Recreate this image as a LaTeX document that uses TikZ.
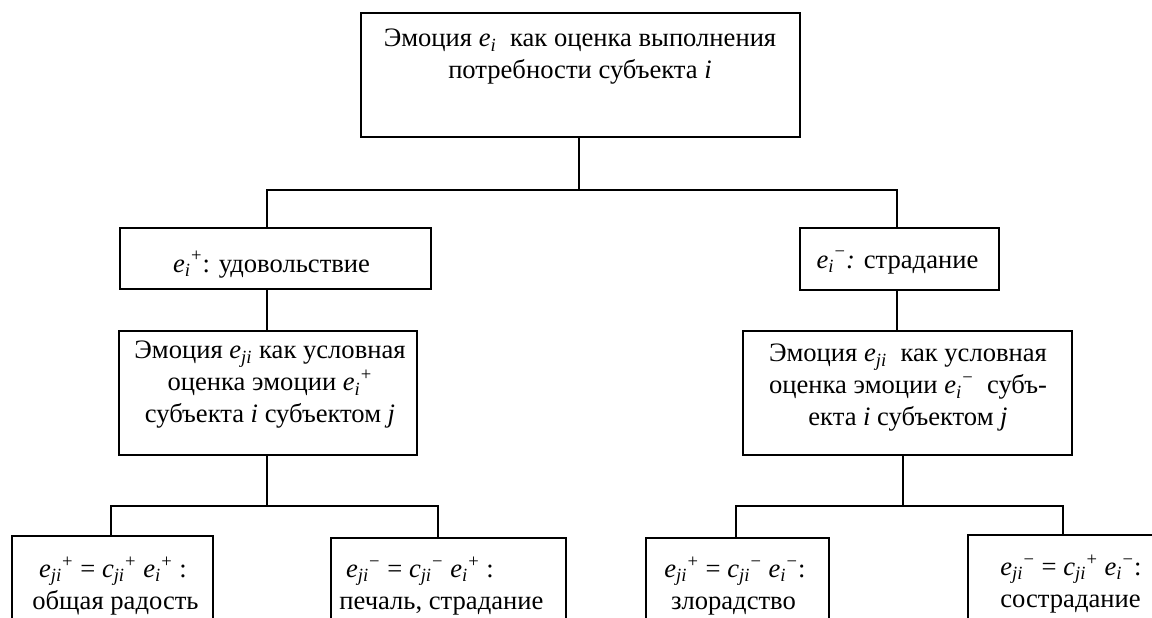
\documentclass[tikz,border=0pt]{standalone}
\usepackage{fontspec}
\setmainfont{Liberation Serif}
\newcommand{\varsub}[2]{\textit{#1}\textsubscript{\textit{#2}}}
\newcommand{\varsubsup}[3]{\textit{#1}\textsubscript{\textit{#2}}\textsuperscript{#3}}
\tikzset{
  box/.style={draw, line width=1.1pt, rectangle, inner sep=0pt, outer sep=0pt},
  txt/.style={align=center, inner sep=0pt, font=\fontsize{13.3}{16}\selectfont},
  ltxt/.style={align=left, inner sep=0pt, anchor=west, font=\fontsize{13.3}{16}\selectfont},
  wire/.style={line width=1.1pt},
}
\begin{document}
\begin{tikzpicture}[x=0.5pt,y=-0.5pt]
\useasboundingbox (0,0) rectangle (1152,617);
\clip (0,0) rectangle (1152,617);
% boxes
\node[box, minimum width=219.5pt, minimum height=62pt] (top) at (580.5,75) {};
\node[box, minimum width=155.5pt, minimum height=30.5pt] (plus) at (275.5,258.5) {};
\node[box, minimum width=99.5pt, minimum height=31pt] (minus) at (899.5,259) {};
\node[box, minimum width=149pt, minimum height=62pt] (midL) at (268,393) {};
\node[box, minimum width=164.5pt, minimum height=62pt] (midR) at (907.5,393) {};
\node[box, minimum width=100.5pt, minimum height=52pt] (LL1) at (112.5,588) {};
\node[box, minimum width=117.5pt, minimum height=51pt] (LL2) at (448.5,589) {};
\node[box, minimum width=91.5pt, minimum height=51pt] (LR1) at (737.5,589) {};
\node[box, minimum width=98.5pt, minimum height=52.5pt] (LR2) at (1066.5,587.5) {};
% texts
\node[txt] (toptxt) at (580,57) {Эмоция \varsub{e}{i}\ \ как оценка выполнения\\потребности субъекта \textit{i}};
\node[txt, anchor=base] (plustxt) at (271.5,272) {\varsubsup{e}{i}{+}: удовольствие};
\node[txt, anchor=base] (minustxt) at (897.5,268) {\varsubsup{e}{i}{−}\textit{:} страдание};
\node[txt] (midLtxt) at (270,385) {Эмоция \varsub{e}{ji} как условная\\оценка эмоции \varsubsup{e}{i}{+}\\субъекта \textit{i} субъектом \textit{j}};
\node[txt] (midRtxt) at (908,388) {Эмоция \varsub{e}{ji}\ \ как условная\\оценка эмоции \varsubsup{e}{i}{−}\ \ субъ-\\екта \textit{i} субъектом \textit{j}};
\node[ltxt] (LL1txt) at (32,586) {\ \varsubsup{e}{ji}{+} = \varsubsup{c}{ji}{+} \varsubsup{e}{i}{+} :\\общая радость};
\node[ltxt] (LL2txt) at (339,586) {\ \varsubsup{e}{ji}{−} = \varsubsup{c}{ji}{−} \varsubsup{e}{i}{+} :\\печаль, страдание};
\node[ltxt] (LR1txt) at (664,586) {\varsubsup{e}{ji}{+} = \varsubsup{c}{ji}{−} \varsubsup{e}{i}{−}:\\\ злорадство};
\node[ltxt] (LR2txt) at (1000,584) {\varsubsup{e}{ji}{−} = \varsubsup{c}{ji}{+} \varsubsup{e}{i}{−}:\\сострадание};
% junction points
\coordinate (hub) at (579,190);
\coordinate (pl) at (267,190);
\coordinate (mi) at (897,190);
\coordinate (lhub) at (267,506);
\coordinate (l1) at (111,506);
\coordinate (l2) at (438,506);
\coordinate (rhub) at (903,506);
\coordinate (r1) at (736,506);
\coordinate (r2) at (1063,506);
% connectors
\draw[wire] (top.south -| hub) -- (hub);
\draw[wire] (plus.north -| pl) -- (pl) -- (mi) -- (minus.north -| mi);
\draw[wire] (plus.south -| pl) -- (midL.north -| pl);
\draw[wire] (minus.south -| mi) -- (midR.north -| mi);
\draw[wire] (midL.south -| lhub) -- (lhub);
\draw[wire] (LL1.north -| l1) -- (l1) -- (l2) -- (LL2.north -| l2);
\draw[wire] (midR.south -| rhub) -- (rhub);
\draw[wire] (LR1.north -| r1) -- (r1) -- (r2) -- (LR2.north -| r2);
\end{tikzpicture}
\end{document}
